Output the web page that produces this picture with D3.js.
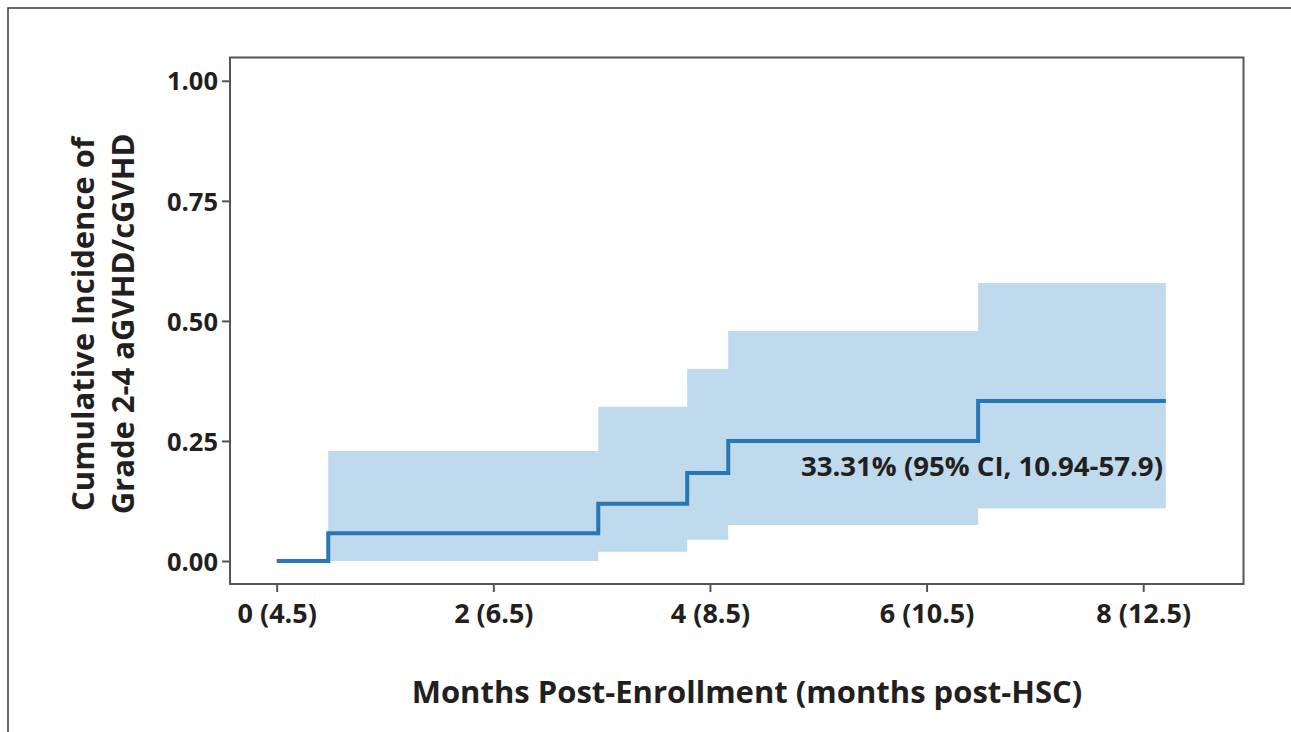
<!DOCTYPE html>
<html>
<head>
<meta charset="utf-8">
<script src="https://cdn.jsdelivr.net/npm/d3@7"></script>
<style>
  html, body { margin: 0; padding: 0; background: #fff; }
  svg { display: block; }
  text { font-family: "Open Sans", "DejaVu Sans", sans-serif; fill: #231f20; font-weight: 700; }
</style>
</head>
<body>
<svg id="chart" width="1291" height="732"></svg>
<script>
// Cumulative incidence step function (months post-enrollment)
const stepTimes = [0, 0.476, 2.969, 3.79, 4.169, 6.476];
const endTime = 8.209;
const estimate = [0, 0.0577, 0.119, 0.183, 0.25, 0.3331];
const ciLower = [0, 0, 0.019, 0.044, 0.075, 0.1094];
const ciUpper = [0, 0.229, 0.321, 0.400, 0.479, 0.579];

const xTickValues = [0, 2, 4, 6, 8];
const xTickLabels = ["0 (4.5)", "2 (6.5)", "4 (8.5)", "6 (10.5)", "8 (12.5)"];
const yTickValues = [0, 0.25, 0.5, 0.75, 1.0];

const annotationText = "33.31% (95% CI, 10.94-57.9)";
const xTitle = "Months Post-Enrollment (months post-HSC)";
const yTitleLines = ["Cumulative Incidence of", "Grade 2-4 aGVHD/cGVHD"];

const svg = d3.select("#chart");

// Outer frame
svg.append("rect")
  .attr("x", 8).attr("y", 8).attr("width", 1300).attr("height", 760)
  .attr("fill", "none").attr("stroke", "#3a3a3a").attr("stroke-width", 1.5);

const panel = { left: 230, right: 1243.5, top: 57.5, bottom: 584 };

const x = d3.scaleLinear().domain([-0.431, 8.926]).range([panel.left, panel.right]);
const y = d3.scaleLinear().domain([-0.0479, 1.0485]).range([panel.bottom, panel.top]);

// Build step records, repeating the last value at the end of follow-up
const rows = stepTimes.map((t, i) => ({ t, est: estimate[i], lo: ciLower[i], hi: ciUpper[i] }));
rows.push({ t: endTime, est: estimate[estimate.length - 1], lo: ciLower[ciLower.length - 1], hi: ciUpper[ciUpper.length - 1] });

// Confidence band
const band = d3.area()
  .x(d => x(d.t))
  .y0(d => y(d.lo))
  .y1(d => y(d.hi))
  .curve(d3.curveStepAfter);
svg.append("path")
  .datum(rows)
  .attr("d", band)
  .attr("fill", "#bfdaec");

// Estimate line
const line = d3.line()
  .x(d => x(d.t))
  .y(d => y(d.est))
  .curve(d3.curveStepAfter);
svg.append("path")
  .datum(rows)
  .attr("d", line)
  .attr("fill", "none")
  .attr("stroke", "#2777b4")
  .attr("stroke-width", 4);

// Panel border
svg.append("rect")
  .attr("x", panel.left).attr("y", panel.top)
  .attr("width", panel.right - panel.left).attr("height", panel.bottom - panel.top)
  .attr("fill", "none").attr("stroke", "#555").attr("stroke-width", 2);

// Axes
const xAxis = d3.axisBottom(x)
  .tickValues(xTickValues)
  .tickFormat((d, i) => xTickLabels[i])
  .tickSize(8).tickSizeOuter(0).tickPadding(7);
const gx = svg.append("g").attr("transform", `translate(0,${panel.bottom})`).call(xAxis);
gx.select(".domain").remove();
gx.selectAll(".tick line").attr("stroke", "#555").attr("stroke-width", 2);
gx.selectAll(".tick text").attr("font-size", 27).attr("dy", "0.9em").style("fill", "#231f20");

const yAxis = d3.axisLeft(y)
  .tickValues(yTickValues)
  .tickFormat(d3.format(".2f"))
  .tickSize(8).tickSizeOuter(0).tickPadding(4);
const gy = svg.append("g").attr("transform", `translate(${panel.left},0)`).call(yAxis);
gy.select(".domain").remove();
gy.selectAll(".tick line").attr("stroke", "#555").attr("stroke-width", 2);
gy.selectAll(".tick text").attr("font-size", 25.5).attr("dy", "0.36em").style("fill", "#231f20");
gy.selectAll("text, g").attr("font-family", null);
gx.selectAll("text, g").attr("font-family", null);

// Annotation of final estimate
svg.append("text")
  .attr("x", 1163).attr("y", 476)
  .attr("text-anchor", "end")
  .attr("font-size", 27.6)
  .text(annotationText);

// Axis titles
svg.append("text")
  .attr("x", 747).attr("y", 703)
  .attr("text-anchor", "middle")
  .attr("font-size", 31)
  .text(xTitle);

const yt = svg.append("text")
  .attr("transform", "translate(0,324) rotate(-90)")
  .attr("text-anchor", "middle")
  .attr("font-size", 31);
yTitleLines.forEach((s, i) => {
  yt.append("tspan").attr("x", 0).attr("y", 94 + i * 40).text(s);
});
</script>
</body>
</html>
